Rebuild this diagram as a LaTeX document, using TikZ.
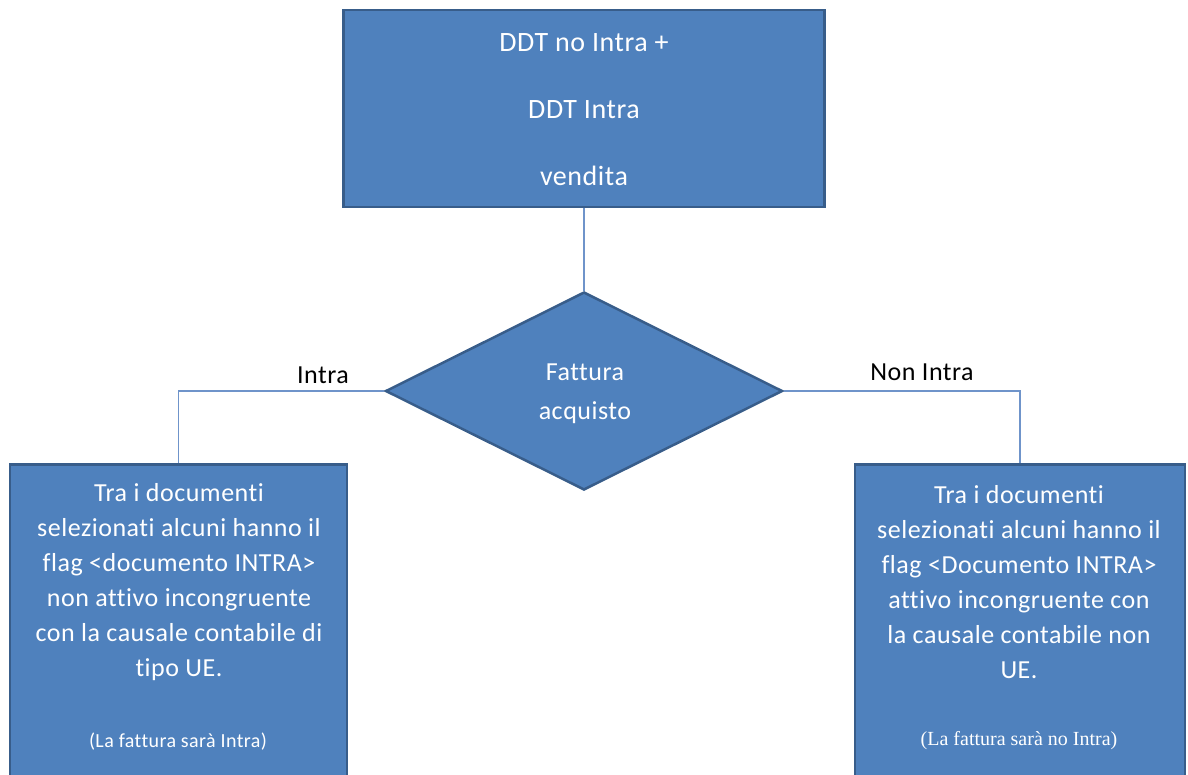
\documentclass[tikz,border=0pt]{standalone}
\usepackage{fontspec}
\setmainfont{Carlito}[Ligatures=NoCommon,LetterSpace=2]
\newfontfamily\notefont{Liberation Serif}
\usetikzlibrary{shapes.geometric}
\definecolor{boxfill}{HTML}{4F81BD}
\definecolor{boxline}{HTML}{385D8A}
\definecolor{conn}{HTML}{6F94CA}
\begin{document}
\begin{tikzpicture}[x=1pt,y=-1pt,
  blockbox/.style={rectangle,fill=boxfill,draw=boxline,line width=2.5pt,inner sep=0pt},
  decision/.style={diamond,fill=boxfill,draw=boxline,line width=2.5pt,inner sep=0pt},
  intext/.style={text=white,align=center,inner sep=0pt},
  link/.style={draw=conn,line width=1.3pt},
  lbl/.style={text=black,inner sep=0pt,font=\fontsize{26}{30}\selectfont}]
\useasboundingbox (0,0) rectangle (1188,774);
% nodes
\node[blockbox,minimum width=481pt,minimum height=197pt] (top) at (584,108.5) {};
\node[intext,font=\fontsize{28}{67}\selectfont] (toptext) at (584,110) {DDT no Intra +\\DDT Intra\\vendita};
\node[decision,minimum width=397pt,minimum height=198pt] (dia) at (584,391) {};
\node[intext,font=\fontsize{26}{39}\selectfont] (diatext) at (585,393.5) {Fattura\\acquisto};
\node[blockbox,anchor=north,minimum width=337pt,minimum height=340pt] (left) at (178.5,463) {};
\node[blockbox,anchor=north,minimum width=330pt,minimum height=340pt] (right) at (1020,463) {};
\node[intext,font=\fontsize{26}{35}\selectfont] (ltext) at (179,582) {Tra i documenti\\selezionati alcuni hanno il\\flag <documento INTRA>\\non attivo incongruente\\con la causale contabile di\\tipo UE.};
\node[intext,font=\fontsize{20}{24}\selectfont] (lnote) at (178,742) {(La fattura sarà Intra)};
\node[intext,font=\fontsize{26}{35}\selectfont] (rtext) at (1019,582) {Tra i documenti\\selezionati alcuni hanno il\\flag <Documento INTRA>\\attivo incongruente con\\la causale contabile non\\UE.};
\node[intext,font=\notefont\fontsize{20}{24}\selectfont] (rnote) at (1019,741) {(La fattura sarà no Intra)};
\node[lbl] (lintra) at (323,375) {Intra};
\node[lbl] (lnon) at (922,372) {Non Intra};
% connectors
\draw[link] (top) -- (dia);
\draw[link] (dia.west) -| (left.north);
\draw[link] (dia.east) -| (right.north);
\end{tikzpicture}
\end{document}
